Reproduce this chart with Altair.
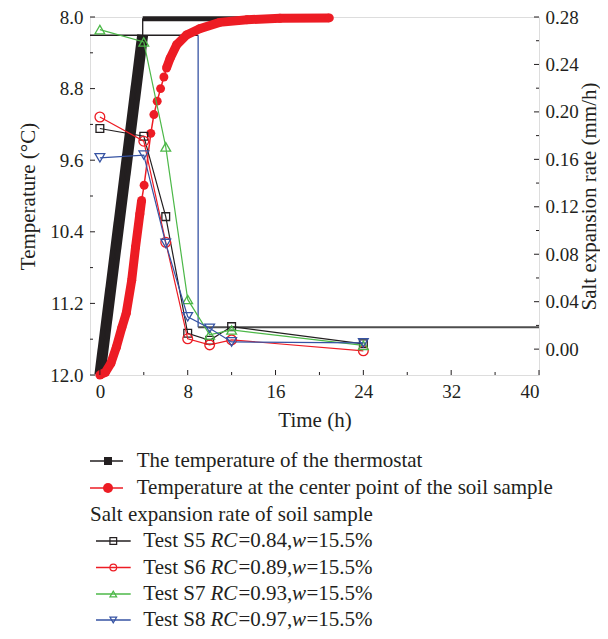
import altair as alt
import pandas as pd

# ---------------- data ----------------
# thermostat temperature (left axis)
thermo_t = [0.0, 3.9, 3.9, 20.9]
thermo_T = [12.0, 8.2, 8.02, 8.02]

# temperature at the centre point of the soil sample (left axis)
soil_t = [0.0, 0.5, 1.0, 1.5, 2.0, 2.4, 2.9, 3.25, 3.64, 3.8,
          4.03, 4.64, 4.92, 5.22, 5.53, 5.83,
          6.07, 6.4, 7.0, 7.9, 9.1, 10.9, 13.4, 16.4, 20.9]
soil_T = [12.0, 11.97, 11.87, 11.69, 11.47, 11.31, 10.94, 10.57, 10.2, 10.05,
          9.88, 9.30, 9.09, 8.94, 8.80, 8.67,
          8.57, 8.46, 8.31, 8.20, 8.13, 8.06, 8.03, 8.015, 8.01]

# salt expansion rate (right axis)
test_time = [0, 4, 6, 8, 10, 12, 24]
rate_s5 = [0.186, 0.1795, 0.1117, 0.0134, 0.0075, 0.019, 0.0045]
rate_s6 = [0.1957, 0.1753, 0.0901, 0.0087, 0.0036, 0.0078, -0.0014]
rate_s7 = [0.2694, 0.259, 0.1705, 0.0419, 0.012, 0.0162, 0.0032]
rate_s8 = [0.1613, 0.1636, 0.0891, 0.0273, 0.0176, 0.0061, 0.0053]

test_names = ["S5", "S6", "S7", "S8"]
test_rc = ["0.84", "0.89", "0.93", "0.97"]
test_w = "15.5%"

# reference step line drawn in the figure
step_T_high = 8.204
step_T_low = 11.467
step_time = 8.95

# axes
x_ticks_major = [0, 8, 16, 24, 32, 40]
x_ticks_minor = [4, 12, 20, 28, 36]
t_ticks_major = [8.0, 8.8, 9.6, 10.4, 11.2, 12.0]
t_ticks_minor = [8.4, 9.2, 10.0, 10.8, 11.6]
r_ticks_major = [0.0, 0.04, 0.08, 0.12, 0.16, 0.20, 0.24, 0.28]
r_ticks_minor = [0.02, 0.06, 0.10, 0.14, 0.18, 0.22, 0.26]

legend_thermo = "The temperature of the thermostat"
legend_soil = "Temperature at the center point of the soil sample"
legend_group = "Salt expansion rate of soil sample"

# ---------------- styling ----------------
W, H = 449, 358
PAD_L, PAD_T, PAD_R, PAD_B = 82, 9, 61, 256
SERIF = "Liberation Serif"
INK = "#231f20"
RED = "#ed1c24"
GREEN = "#4cb848"
BLUE = "#3653a3"
GRAY = "#4d4d4d"
LEG_FS = 21
test_colors = [INK, RED, GREEN, BLUE]
test_shapes = ["square", "circle", "triangle-up", "triangle-down"]
test_sizes = [60, 95, 95, 95]

xscale = alt.Scale(domain=[-0.9, 40], nice=False, zero=False)
tscale = alt.Scale(domain=[8, 12], reverse=True, nice=False, zero=False)
rscale = alt.Scale(domain=[-0.0218, 0.28], nice=False, zero=False)

common_axis = dict(ticks=False, tickSize=0, domain=False, grid=False,
                   labelFont=SERIF, titleFont=SERIF, labelFontSize=19,
                   titleFontSize=21, labelColor=INK, titleColor=INK,
                   titleFontWeight="normal")
xaxis = alt.Axis(values=x_ticks_major, format="d", title="Time (h)",
                 labelPadding=7, titlePadding=8, **common_axis)
taxis = alt.Axis(values=t_ticks_major, format=".1f", title="Temperature (°C)",
                 orient="left", labelPadding=7, titlePadding=11, **common_axis)
raxis = alt.Axis(values=r_ticks_major, format=".2f",
                 title="Salt expansion rate (mm/h)", orient="right",
                 labelPadding=6, titlePadding=0, titleAngle=270,
                 titleBaseline="top", **common_axis)

X = lambda f: alt.X(f, type="quantitative", scale=xscale, axis=xaxis)
YT = lambda f: alt.Y(f, type="quantitative", scale=tscale, axis=taxis)
YR = lambda f: alt.Y(f, type="quantitative", scale=rscale, axis=raxis)

thermo_df = pd.DataFrame({"t": thermo_t, "T": thermo_T, "i": range(len(thermo_t))})
soil_df = pd.DataFrame({"t": soil_t, "T": soil_T})
one = pd.DataFrame({"k": [0]})

# ---------------- temperature group (left axis) ----------------
step_hi = alt.Chart(pd.DataFrame({"a": [-0.9], "b": [step_time], "T": [step_T_high]})).mark_rule(
    color=INK, strokeWidth=1.3).encode(x=X("a"), x2="b", y=YT("T"))
step_v = alt.Chart(pd.DataFrame({"a": [step_time], "T": [step_T_high], "T2": [step_T_low]})).mark_rule(
    color=BLUE, strokeWidth=1.3).encode(x=X("a"), y=YT("T"), y2="T2")
step_lo = alt.Chart(pd.DataFrame({"a": [step_time], "b": [40], "T": [step_T_low]})).mark_rule(
    color=GRAY, strokeWidth=2).encode(x=X("a"), x2="b", y=YT("T"))

thermo_thin = alt.Chart(thermo_df).mark_line(color=INK, strokeWidth=1.3).encode(
    x=X("t"), y=YT("T"), order="i:Q")
thermo_ramp = alt.Chart(thermo_df).transform_filter("datum.i <= 1").mark_line(
    color=INK, strokeWidth=11, strokeCap="butt").encode(x=X("t"), y=YT("T"), order="i:Q")
thermo_hold = alt.Chart(thermo_df).transform_filter("datum.i >= 2").mark_line(
    color=INK, strokeWidth=5, strokeCap="butt").encode(x=X("t"), y=YT("T"), order="i:Q")

soil_thin = alt.Chart(soil_df).mark_line(color=RED, strokeWidth=1.5).encode(x=X("t"), y=YT("T"))
soil_low = alt.Chart(soil_df).transform_filter("datum.t <= 3.8").mark_line(
    color=RED, strokeWidth=9).encode(x=X("t"), y=YT("T"))
soil_high = alt.Chart(soil_df).transform_filter("datum.t >= 6.07").mark_line(
    color=RED, strokeWidth=9).encode(x=X("t"), y=YT("T"))
soil_pts = alt.Chart(soil_df).mark_point(filled=True, color=RED, size=80, opacity=1).encode(
    x=X("t"), y=YT("T"))

xt_major = alt.Chart(pd.DataFrame({"v": x_ticks_major})).mark_rule(color=INK, strokeWidth=1).encode(
    x=X("v"), y=alt.value(H), y2=alt.value(H - 5))
xt_minor = alt.Chart(pd.DataFrame({"v": x_ticks_minor})).mark_rule(color=INK, strokeWidth=1).encode(
    x=X("v"), y=alt.value(H), y2=alt.value(H - 3))
tt_major = alt.Chart(pd.DataFrame({"v": t_ticks_major})).mark_rule(color=INK, strokeWidth=1).encode(
    y=YT("v"), x=alt.value(0), x2=alt.value(5))
tt_minor = alt.Chart(pd.DataFrame({"v": t_ticks_minor})).mark_rule(color=INK, strokeWidth=1).encode(
    y=YT("v"), x=alt.value(0), x2=alt.value(3))

temp_group = alt.layer(step_hi, step_v, step_lo, thermo_ramp, thermo_hold, thermo_thin,
                       soil_low, soil_high, soil_thin, soil_pts,
                       xt_major, xt_minor, tt_major, tt_minor)

# ---------------- salt expansion group (right axis) ----------------
rate_lists = [rate_s5, rate_s6, rate_s7, rate_s8]
rate_layers = []
for name, vals, col, shp, sz in zip(test_names, rate_lists, test_colors, test_shapes, test_sizes):
    df = pd.DataFrame({"t": test_time, "r": vals})
    rate_layers.append(alt.Chart(df).mark_line(color=col, strokeWidth=1.2).encode(x=X("t"), y=YR("r")))
    rate_layers.append(alt.Chart(df).mark_point(shape=shp, filled=False, color=col, size=sz,
                                                strokeWidth=1.3, opacity=1).encode(x=X("t"), y=YR("r")))
rt_major = alt.Chart(pd.DataFrame({"v": r_ticks_major})).mark_rule(color=INK, strokeWidth=1).encode(
    y=YR("v"), x=alt.value(W), x2=alt.value(W - 5))
rt_minor = alt.Chart(pd.DataFrame({"v": r_ticks_minor})).mark_rule(color=INK, strokeWidth=1).encode(
    y=YR("v"), x=alt.value(W), x2=alt.value(W - 3))
rate_group = alt.layer(*rate_layers, rt_major, rt_minor)

# ---------------- custom legend below the plot ----------------
def txt(s, x, y, italic=False, size=LEG_FS):
    return alt.Chart(one).mark_text(text=s, align="left", baseline="middle", fontSize=size,
                                    font=SERIF, fontStyle="italic" if italic else "normal",
                                    color=INK).encode(x=alt.value(x), y=alt.value(y))

def seg(x1, x2, y, color):
    return alt.Chart(one).mark_rule(color=color, strokeWidth=1.5).encode(
        x=alt.value(x1), x2=alt.value(x2), y=alt.value(y))

def sym(x, y, shape, color, filled, size):
    return alt.Chart(one).mark_point(shape=shape, filled=filled, color=color, size=size,
                                     opacity=1, strokeWidth=1.2).encode(x=alt.value(x), y=alt.value(y))

rows_y = [444, 471, 497.5, 524, 550.5, 577, 603]
legend_layers = [
    seg(0, 33, rows_y[0], INK), sym(18, rows_y[0], "square", INK, True, 64), txt(legend_thermo, 46.7, rows_y[0]),
    seg(0, 33, rows_y[1], RED), sym(18, rows_y[1], "circle", RED, True, 100), txt(legend_soil, 46.7, rows_y[1]),
    txt(legend_group, 0, rows_y[2]),
]
for k, (name, rc, col, shp) in enumerate(zip(test_names, test_rc, test_colors, test_shapes)):
    yy = rows_y[3 + k]
    legend_layers += [
        seg(6, 40.7, yy, col), sym(23.3, yy, shp, col, False, 45),
        txt("Test " + name, 53.3, yy),
        txt("RC", 120.5, yy, italic=True),
        txt("=" + rc + ",", 148.5, yy),
        txt("w", 202, yy, italic=True),
        txt("=" + test_w, 216.5, yy),
    ]
legend_group_chart = alt.layer(*legend_layers)

chart = alt.layer(temp_group, rate_group, legend_group_chart).resolve_scale(
    y="independent"
).properties(
    width=W, height=H,
    autosize=alt.AutoSizeParams(type="none"),
    padding={"left": PAD_L, "top": PAD_T, "right": PAD_R, "bottom": PAD_B}
).configure_view(
    stroke=INK, strokeWidth=1.2
).configure(background="white")

chart.save("out.html", embed_options={"renderer": "svg", "actions": False})
